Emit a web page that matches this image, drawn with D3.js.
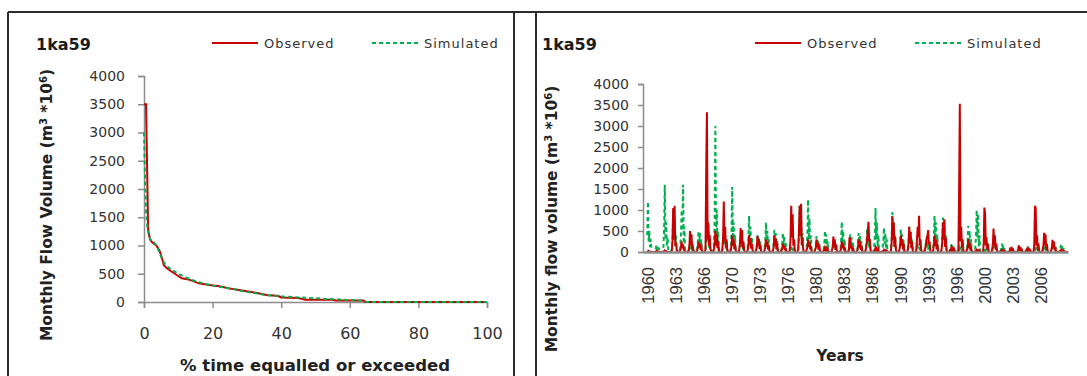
<!DOCTYPE html>
<html>
<head>
<meta charset="utf-8">
<script src="https://cdn.jsdelivr.net/npm/d3@7"></script>
<style>
  html, body { margin: 0; padding: 0; background: #fff; }
  svg { display: block; font-family: "DejaVu Sans", sans-serif; }
</style>
</head>
<body>
<svg id="chart" width="1087" height="376"></svg>
<script>
// Flow duration curve: % of time a flow is equalled or exceeded
const fdcObsPct = [0, 0.6, 0.9, 1.2, 1.5, 1.8, 2.5, 3.6, 4.6, 5.3, 5.8, 6.6, 8, 9, 11, 13, 16, 19, 22, 25, 29, 33, 36, 39, 40, 45, 47, 55, 56, 64, 64.5, 100];
const fdcObsVal = [3500, 3500, 2400, 1300, 1180, 1100, 1050, 1000, 900, 760, 650, 600, 540, 500, 420, 400, 330, 300, 280, 240, 200, 160, 120, 110, 80, 70, 40, 40, 25, 25, 0, 0];
const fdcSimPct = [0, 0.3, 0.6, 1, 1.5, 2, 3, 4, 5, 6, 7, 8, 10, 12, 14, 16, 18, 20, 23, 26, 29, 32, 35, 38, 41, 44, 47, 50, 55, 60, 64, 65, 100];
const fdcSimVal = [3000, 2200, 1600, 1300, 1150, 1100, 1050, 950, 800, 680, 620, 570, 500, 440, 390, 350, 320, 290, 260, 230, 190, 160, 130, 110, 95, 85, 75, 65, 50, 35, 20, 0, 0];

// Monthly flow volume, Jan 1960 - Dec 2009, one row of 12 months per year
const observed = [
  0,20,30,15,10,0,0,0,0,0,0,0,
  0,30,25,10,0,0,0,0,0,0,0,10,
  20,40,30,20,10,0,0,0,0,0,0,30,
  250,1050,300,1100,150,220,60,20,0,0,0,40,
  120,250,90,180,60,40,0,0,0,0,0,30,
  150,500,160,420,70,120,30,0,0,0,0,40,
  90,250,110,200,50,150,20,0,0,0,0,60,
  2000,3330,300,700,150,400,70,30,0,0,0,80,
  200,500,150,420,90,250,40,0,0,0,0,60,
  350,1200,250,600,100,300,50,0,0,0,0,50,
  150,400,150,300,70,200,30,0,0,0,0,60,
  200,570,200,520,90,250,40,0,0,0,0,40,
  150,400,160,330,80,200,30,0,0,0,0,50,
  120,380,150,300,70,180,30,0,0,0,0,40,
  100,300,120,250,60,150,20,0,0,0,0,30,
  120,400,150,320,60,200,20,0,0,0,0,40,
  60,200,80,150,40,100,10,0,0,0,0,50,
  300,1100,350,900,150,300,60,0,0,0,0,80,
  500,1100,400,1150,180,350,70,0,0,0,0,60,
  100,300,120,250,60,150,20,0,0,0,0,50,
  100,300,110,220,50,150,20,0,0,0,0,30,
  40,100,40,80,20,60,0,0,0,0,0,40,
  120,370,140,300,60,180,20,0,0,0,0,30,
  80,250,100,200,40,120,10,0,0,0,0,40,
  350,300,80,150,30,100,10,0,0,0,0,30,
  100,300,110,250,50,150,20,0,0,0,0,40,
  150,300,500,720,250,300,40,0,0,0,0,30,
  40,100,40,80,20,60,0,0,0,0,0,20,
  20,50,20,40,10,30,0,0,0,0,0,30,
  250,850,300,700,120,350,50,0,0,0,0,60,
  150,400,150,300,60,200,20,0,0,0,0,50,
  200,600,200,480,90,250,30,0,0,0,0,40,
  300,600,350,860,150,300,60,0,0,0,0,30,
  100,200,350,400,520,180,250,30,0,0,0,20,
  150,400,140,300,60,200,20,0,0,0,0,50,
  250,700,300,780,120,350,50,0,0,0,0,40,
  30,100,40,80,20,60,0,0,0,0,0,60,
  1500,3530,250,600,100,300,40,0,0,0,0,50,
  80,300,100,220,40,120,10,0,0,0,0,20,
  20,50,20,40,10,30,0,0,0,0,0,200,
  1060,900,150,350,60,200,20,0,0,0,0,50,
  180,560,150,400,60,200,20,0,0,0,0,20,
  20,50,20,40,0,20,0,0,0,0,0,10,
  30,110,40,80,20,50,0,0,0,0,0,10,
  50,160,50,120,20,80,0,0,0,0,0,10,
  30,80,30,60,10,40,0,0,0,0,0,200,
  1100,1050,150,400,60,200,20,0,0,0,0,80,
  150,460,150,420,60,200,20,0,0,0,0,30,
  100,290,100,250,40,120,10,0,0,0,0,20,
  20,50,30,40,20,30,10,0,0,0,0,0
];
const simulated = [
  400,1200,250,500,120,300,20,0,0,0,0,50,
  60,150,60,120,30,100,0,0,0,0,0,100,
  500,1600,300,700,150,350,20,0,0,0,0,80,
  300,1000,300,800,130,400,20,0,0,0,0,60,
  400,1000,500,1600,200,600,30,0,0,0,0,50,
  60,150,60,120,30,80,10,0,0,0,0,80,
  200,500,200,450,90,300,10,0,0,0,0,70,
  300,1000,250,600,100,350,10,0,0,0,0,150,
  800,3000,400,1000,150,500,20,0,0,0,0,90,
  200,500,180,400,80,250,0,0,0,0,0,80,
  500,1550,300,700,120,400,20,0,0,0,0,60,
  100,300,120,250,50,180,0,0,0,0,0,80,
  300,860,250,600,100,350,10,0,0,0,0,50,
  150,420,150,350,70,250,0,0,0,0,0,60,
  250,700,200,500,90,300,10,0,0,0,0,50,
  180,530,180,450,80,300,0,0,0,0,0,60,
  150,460,160,380,70,250,0,0,0,0,0,40,
  50,150,60,120,30,100,0,0,0,0,0,80,
  350,1100,350,900,150,450,20,0,0,0,0,100,
  400,1250,300,800,120,400,20,0,0,0,0,70,
  130,380,140,300,60,200,0,0,0,0,0,60,
  170,510,170,420,70,250,0,0,0,0,0,50,
  80,250,90,200,40,150,0,0,0,0,0,40,
  250,720,200,500,80,300,0,0,0,0,0,60,
  140,420,150,350,60,220,0,0,0,0,0,50,
  150,450,160,380,70,250,0,0,0,0,0,60,
  180,550,180,450,80,300,0,0,0,0,0,90,
  350,1050,300,700,120,400,20,0,0,0,0,80,
  200,580,200,450,80,300,0,0,0,0,0,60,
  300,950,300,700,120,400,20,0,0,0,0,60,
  180,550,180,420,80,280,0,0,0,0,0,50,
  200,600,200,480,80,300,0,0,0,0,0,40,
  70,200,80,160,40,120,0,0,0,0,0,50,
  100,300,110,250,50,180,0,0,0,0,0,60,
  300,860,300,700,120,400,20,0,0,0,0,70,
  250,820,300,750,120,400,20,0,0,0,0,40,
  60,180,70,150,30,100,0,0,0,0,0,50,
  40,100,40,80,20,60,0,0,0,0,0,80,
  200,620,200,500,80,300,0,0,0,0,0,90,
  350,1000,350,900,130,400,20,0,0,0,0,60,
  40,100,40,80,20,60,0,0,0,0,0,50,
  80,250,90,200,40,150,0,0,0,0,0,40,
  70,200,70,150,30,100,0,0,0,0,0,30,
  20,50,20,40,10,30,0,0,0,0,0,30,
  30,80,30,60,10,50,0,0,0,0,0,40,
  40,100,40,80,20,60,0,0,0,0,0,50,
  50,150,60,120,30,100,0,0,0,0,0,50,
  50,150,60,120,30,100,0,0,0,0,0,40,
  70,200,80,160,40,120,0,0,0,0,0,30,
  60,170,70,140,30,100,0,0,0,0,0,0
];

// Category labels shown every 40 months along the time axis
const yearLabels = ["1960", "1963", "1966", "1970", "1973", "1976", "1980", "1983", "1986", "1990", "1993", "1996", "2000", "2003", "2006"];
const labelStep = 40;
const flowTicks = [0, 500, 1000, 1500, 2000, 2500, 3000, 3500, 4000];
const pctTicks = [0, 20, 40, 60, 80, 100];

const gaugeName = "1ka59";
const seriesNames = ["Observed", "Simulated"];
const obsColor = "#c80000";
const simColor = "#00b050";
const axisColor = "#8c8c8c";
const textColor = "#333333";

const svg = d3.select("#chart");

// Panel frames
const frame = svg.append("g").attr("stroke", "#2b2b2b").attr("stroke-width", 2).attr("fill", "none");
frame.append("line").attr("x1", 8).attr("x2", 1087).attr("y1", 12).attr("y2", 12);
frame.append("line").attr("x1", 8).attr("x2", 8).attr("y1", 12).attr("y2", 376);
frame.append("line").attr("x1", 514).attr("x2", 514).attr("y1", 12).attr("y2", 376);
frame.append("line").attr("x1", 536).attr("x2", 536).attr("y1", 12).attr("y2", 376);

function legend(g, x0) {
  const items = [
    { name: seriesNames[0], color: obsColor, dash: null, x: x0 },
    { name: seriesNames[1], color: simColor, dash: "4,3", x: x0 + 160 }
  ];
  items.forEach(it => {
    g.append("line")
      .attr("x1", it.x).attr("x2", it.x + 46).attr("y1", 43).attr("y2", 43)
      .attr("stroke", it.color).attr("stroke-width", 2)
      .attr("stroke-dasharray", it.dash);
    g.append("text")
      .attr("x", it.x + 52).attr("y", 47.5)
      .attr("font-size", 13).attr("letter-spacing", 1)
      .attr("fill", textColor)
      .text(it.name);
  });
}

function styleAxis(g) {
  g.selectAll("path").attr("stroke", axisColor).attr("stroke-width", 1.5);
  g.selectAll("line").attr("stroke", axisColor).attr("stroke-width", 1.5);
  g.selectAll("text").attr("fill", textColor).attr("font-family", "DejaVu Sans");
}

const supTitle = (label) =>
  label + ' (m<tspan font-size="10" dy="-5">3</tspan><tspan dy="5"> *10</tspan><tspan font-size="10" dy="-5">6</tspan><tspan dy="5">)</tspan>';

// ---------- Left panel: flow duration curve ----------
{
  const g = svg.append("g");
  const x = d3.scaleLinear().domain([0, 100]).range([144, 487]);
  const y = d3.scaleLinear().domain([0, 4000]).range([302, 76]);

  g.append("text").attr("x", 36).attr("y", 50).attr("font-size", 16).attr("font-weight", "bold")
    .attr("fill", "#1a1a1a").text(gaugeName);
  legend(g, 212);

  const ya = g.append("g").attr("transform", "translate(144,0)")
    .call(d3.axisLeft(y).tickValues(flowTicks).tickFormat(d3.format("d")).tickSizeOuter(0).tickSize(6).tickPadding(13));
  ya.selectAll("text").attr("font-size", 14);
  styleAxis(ya);

  const xa = g.append("g").attr("transform", "translate(0,302)")
    .call(d3.axisBottom(x).tickValues(pctTicks).tickFormat(d3.format("d")).tickSizeOuter(0).tickSize(6).tickPadding(20));
  xa.selectAll("text").attr("font-size", 16);
  styleAxis(xa);

  const line = d3.line().x(d => x(d[0])).y(d => y(d[1]));
  g.append("path").datum(d3.zip(fdcObsPct, fdcObsVal)).attr("d", line)
    .attr("fill", "none").attr("stroke", obsColor).attr("stroke-width", 2);
  g.append("path").datum(d3.zip(fdcSimPct, fdcSimVal)).attr("d", line)
    .attr("fill", "none").attr("stroke", simColor).attr("stroke-width", 2).attr("stroke-dasharray", "4,3");

  g.append("text").attr("transform", "translate(52,205) rotate(-90)").attr("text-anchor", "middle")
    .attr("font-size", 15.5).attr("font-weight", "bold").attr("fill", "#222")
    .html(supTitle("Monthly Flow Volume"));

  g.append("text").attr("x", 315).attr("y", 371).attr("text-anchor", "middle")
    .attr("font-size", 16.5).attr("font-weight", "bold").attr("fill", "#222")
    .text("% time equalled or exceeded");
}

// ---------- Right panel: monthly time series ----------
{
  const g = svg.append("g");
  const n = observed.length;
  const x = d3.scaleLinear().domain([-6, n - 1]).range([643, 1068]);
  const y = d3.scaleLinear().domain([0, 4000]).range([252, 84]);

  g.append("text").attr("x", 542).attr("y", 50).attr("font-size", 16).attr("font-weight", "bold")
    .attr("fill", "#1a1a1a").text(gaugeName);
  legend(g, 755);

  const ya = g.append("g").attr("transform", "translate(643,0)")
    .call(d3.axisLeft(y).tickValues(flowTicks).tickFormat(d3.format("d")).tickSizeOuter(0).tickSize(5).tickPadding(9));
  ya.selectAll("text").attr("font-size", 14);
  styleAxis(ya);

  const line = d3.line().x((d, i) => x(i)).y(d => y(d));
  g.append("path").datum(simulated).attr("d", line)
    .attr("fill", "none").attr("stroke", simColor).attr("stroke-width", 2).attr("stroke-dasharray", "4,3");
  g.append("path").datum(observed).attr("d", line)
    .attr("fill", "none").attr("stroke", obsColor).attr("stroke-width", 2);

  const tickIdx = yearLabels.map((_, i) => i * labelStep);
  const xa = g.append("g").attr("transform", "translate(0,252)")
    .call(d3.axisBottom(x).tickValues(tickIdx).tickFormat((d, i) => yearLabels[i]).tickSizeOuter(0).tickSize(0));
  xa.select("path").attr("stroke", axisColor).attr("stroke-width", 2.5);
  xa.selectAll("text")
    .attr("transform", "rotate(-90)")
    .attr("text-anchor", "end")
    .attr("x", -15).attr("y", 0).attr("dy", "0.36em")
    .attr("font-size", 16.5).attr("fill", textColor);

  g.append("text").attr("transform", "translate(557,219) rotate(-90)").attr("text-anchor", "middle")
    .attr("font-size", 15.5).attr("font-weight", "bold").attr("fill", "#222")
    .html(supTitle("Monthly flow volume"));

  g.append("text").attr("x", 840).attr("y", 361).attr("text-anchor", "middle")
    .attr("font-size", 15.5).attr("font-weight", "bold").attr("fill", "#222")
    .text("Years");
}
</script>
</body>
</html>
